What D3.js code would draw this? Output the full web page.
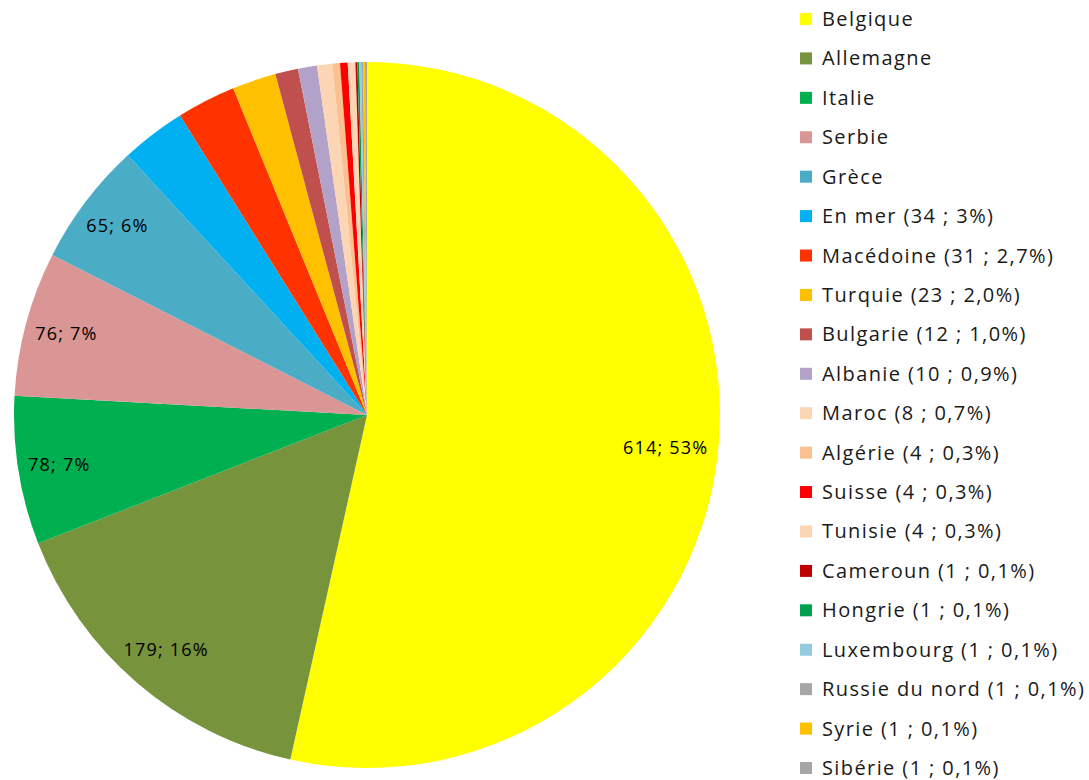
<!DOCTYPE html>
<html><head><meta charset="utf-8">
<script src="https://cdn.jsdelivr.net/npm/d3@7"></script>
<style>body{margin:0;background:#fff}svg{display:block}</style>
</head><body>
<svg id="c" width="1089" height="780"></svg>
<script>
const categories = ["Belgique","Allemagne","Italie","Serbie","Grèce","En mer","Macédoine","Turquie","Bulgarie","Albanie","Maroc","Algérie","Suisse","Tunisie","Cameroun","Hongrie","Luxembourg","Russie du nord","Syrie","Sibérie"];
const values = [614,179,78,76,65,34,31,23,12,10,8,4,4,4,1,1,1,1,1,1];
const legendLabels = ["Belgique","Allemagne","Italie","Serbie","Grèce","En mer (34 ; 3%)","Macédoine (31 ; 2,7%)","Turquie (23 ; 2,0%)","Bulgarie (12 ; 1,0%)","Albanie (10 ; 0,9%)","Maroc (8 ; 0,7%)","Algérie (4 ; 0,3%)","Suisse (4 ; 0,3%)","Tunisie (4 ; 0,3%)","Cameroun (1 ; 0,1%)","Hongrie (1 ; 0,1%)","Luxembourg (1 ; 0,1%)","Russie du nord (1 ; 0,1%)","Syrie (1 ; 0,1%)","Sibérie (1 ; 0,1%)"];
const sliceLabels = ["614; 53%","179; 16%","78; 7%","76; 7%","65; 6%","","","","","","","","","","","","","","",""];
const colors = ["#FFFF00","#77933C","#00B050","#D99694","#4BACC6","#00B0F0","#FF3300","#FFC000","#C0504D","#B3A2C7","#FCD5B5","#FAC090","#FF0000","#FCD5B5","#C00000","#00A050","#93CDDD","#A6A6A6","#FFC000","#A6A6A6"];

const FONT = "'Open Sans', 'Noto Sans', sans-serif";
const svg = d3.select("#c");
const cx = 367, cy = 415, R = 353;
const color = d3.scaleOrdinal().domain(categories).range(colors);
const pie = d3.pie().sort(null).value(d => d.v);
const data = categories.map((c,i) => ({c, v: values[i], lab: sliceLabels[i], leg: legendLabels[i]}));
const arcs = pie(data);
const arc = d3.arc().innerRadius(0).outerRadius(R);
const g = svg.append("g").attr("transform", `translate(${cx},${cy})`);
g.selectAll("path").data(arcs).join("path")
  .attr("d", arc).attr("fill", d => color(d.data.c));
const labels = g.selectAll("text").data(arcs.filter(d => d.data.lab)).join("text")
  .attr("text-anchor","middle").attr("dy","0.35em")
  .attr("font-family", FONT).attr("font-size", 18).attr("letter-spacing", 1.2)
  .attr("fill","#000").text(d => d.data.lab);
// inside-end placement
labels.each(function(d){
  const w = this.getComputedTextLength(), h = 20;
  const a = (d.startAngle + d.endAngle)/2;
  const ux = Math.sin(a), uy = -Math.cos(a);
  const ext = Math.abs(ux)*w/2 + Math.abs(uy)*h/2;
  const r = R - 9 - ext;
  d3.select(this).attr("transform", `translate(${ux*r},${uy*r})`);
});

const ly = d3.scalePoint().domain(categories).range([19, 768]);
const lg = svg.append("g");
const rows = lg.selectAll("g").data(data).join("g")
  .attr("transform", d => `translate(800,${ly(d.c)})`);
rows.append("rect").attr("x",0).attr("y",-6).attr("width",12).attr("height",12)
  .attr("fill", d => color(d.c));
rows.append("text").attr("x",22).attr("dy","0.35em")
  .attr("font-family", FONT).attr("font-size",20).attr("letter-spacing", 1.4)
  .attr("fill","#1a1a1a").text(d => d.leg);
</script>
</body></html>
